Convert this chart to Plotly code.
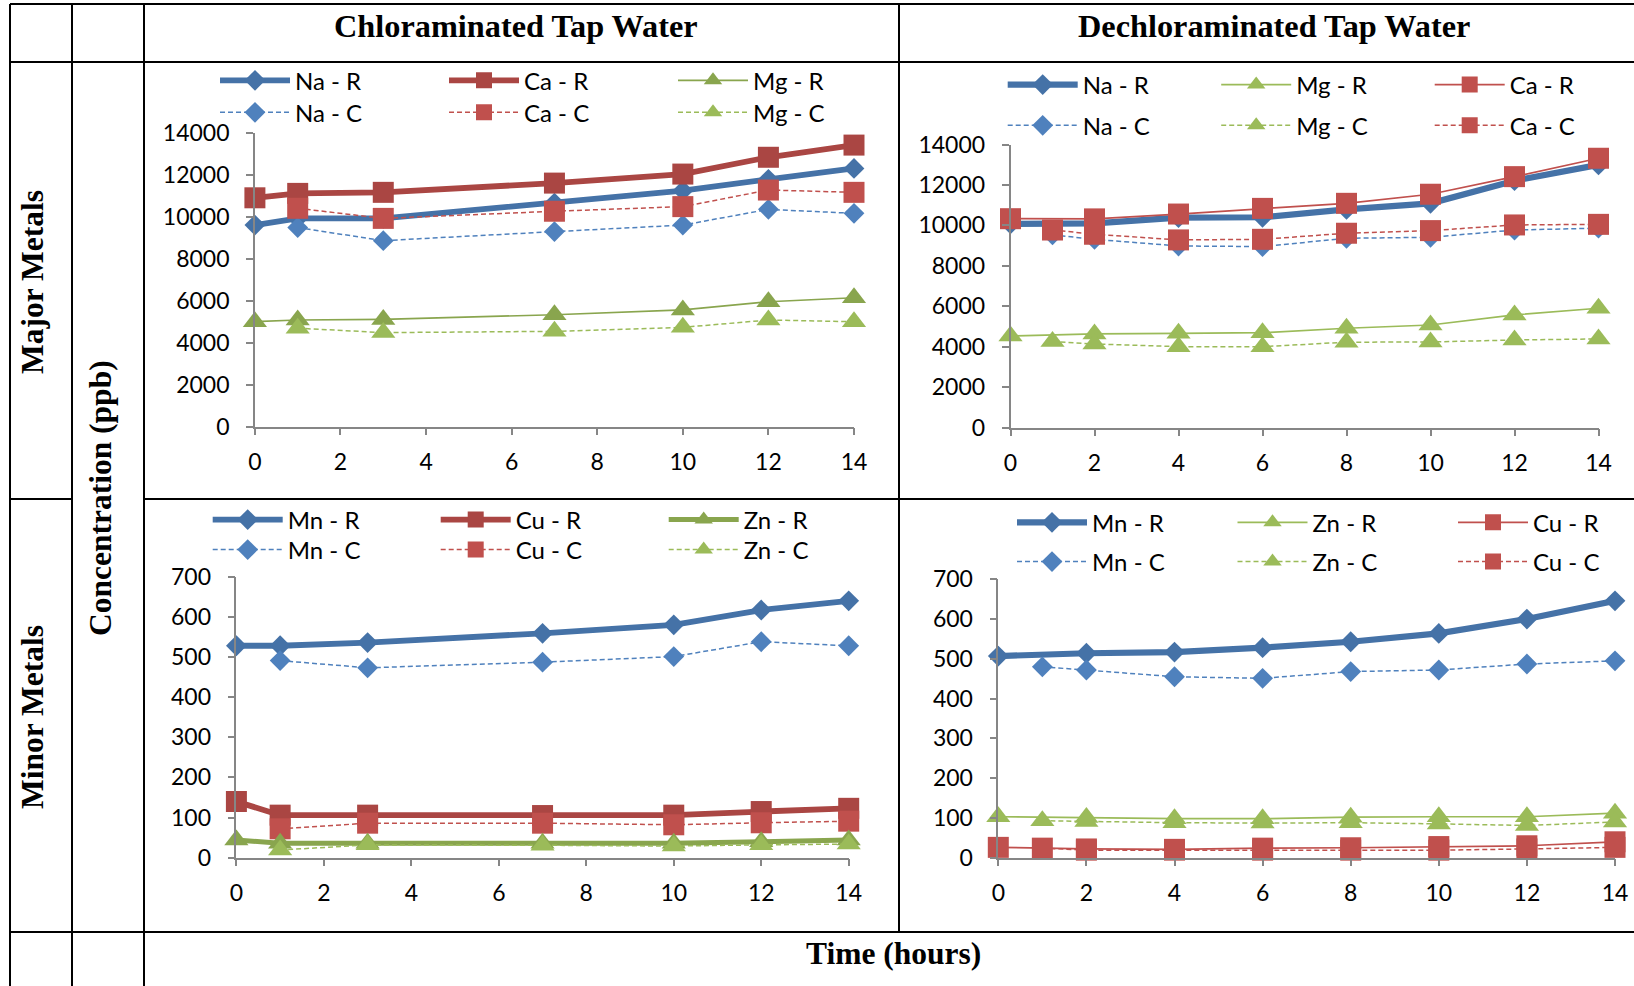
import plotly.graph_objects as go

W, H = 1634, 986

# ---------------- data ----------------
tl_x_r = [0, 1, 3, 7, 10, 12, 14]
tl_x_c = [1, 3, 7, 10, 12, 14]
tl_na_r = [9600, 9920, 9920, 10650, 11240, 11780, 12300]
tl_ca_r = [10900, 11110, 11160, 11600, 12030, 12830, 13410]
tl_mg_r = [5000, 5080, 5110, 5330, 5560, 5950, 6140]
tl_na_c = [9480, 8860, 9290, 9600, 10350, 10160]
tl_ca_c = [10400, 9920, 10260, 10480, 11270, 11160]
tl_mg_c = [4690, 4480, 4540, 4730, 5080, 5000]

tr_x_r = [0, 2, 4, 6, 8, 10, 12, 14]
tr_x_c = [1, 2, 4, 6, 8, 10, 12, 14]
tr_na_r = [10070, 10100, 10380, 10400, 10790, 11090, 12210, 12990]
tr_mg_r = [4530, 4630, 4660, 4690, 4910, 5070, 5570, 5900]
tr_ca_r = [10330, 10320, 10560, 10840, 11090, 11540, 12410, 13320]
tr_na_c = [9530, 9310, 8980, 8950, 9360, 9410, 9770, 9860]
tr_mg_c = [4250, 4130, 4000, 4000, 4220, 4230, 4330, 4380]
tr_ca_c = [9770, 9560, 9280, 9310, 9610, 9740, 10020, 10050]

bl_x_r = [0, 1, 3, 7, 10, 12, 14]
bl_x_c = [1, 3, 7, 10, 12, 14]
bl_mn_r = [528, 528, 536, 559, 580, 617, 640]
bl_cu_r = [140, 106, 106, 105, 106, 115, 123]
bl_zn_r = [44, 36, 36, 36, 36, 40, 44]
bl_mn_c = [491, 473, 487, 501, 538, 528]
bl_cu_c = [72, 86, 86, 82, 87, 91]
bl_zn_c = [19, 32, 31, 29, 32, 34]

br_x_r = [0, 2, 4, 6, 8, 10, 12, 14]
br_x_c = [1, 2, 4, 6, 8, 10, 12, 14]
br_mn_r = [507, 514, 517, 528, 543, 564, 600, 646]
br_zn_r = [103, 101, 98, 98, 102, 103, 103, 112]
br_cu_r = [26, 22, 21, 24, 25, 28, 30, 40]
br_mn_c = [480, 472, 455, 451, 468, 472, 487, 495]
br_zn_c = [93, 91, 88, 87, 88, 85, 81, 90]
br_cu_c = [24, 19, 19, 19, 19, 19, 22, 26]

x_ticks = [0, 2, 4, 6, 8, 10, 12, 14]
major_ticks = [0, 2000, 4000, 6000, 8000, 10000, 12000, 14000]
minor_ticks = [0, 100, 200, 300, 400, 500, 600, 700]

col_headers = ["Chloraminated Tap Water", "Dechloraminated Tap Water"]
row_headers = ["Major Metals", "Minor Metals"]
y_title = "Concentration (ppb)"
x_title = "Time (hours)"

# ---------------- styles ----------------
BLUE_D, RED_D, GREEN_D = "#4572A7", "#AA4643", "#89A54E"
BLUE_L, RED_L, GREEN_L = "#4F81BD", "#C0504D", "#9BBB59"
SYM = {"d": "diamond", "s": "square", "t": "triangle-up"}
MSIZE = {"d": 16, "s": 21, "t": 21}
TICKFONT = dict(family="Lato", size=23, color="black")
LEGFONT = dict(family="Lato", size=24, color="black")


def px(x):
    return x / W


def py(y):
    return 1 - y / H


fig = go.Figure()


def add(name, x, y, ax, color, sym, width, dash, legend):
    fig.add_trace(go.Scatter(
        x=x, y=y, name=name, mode="lines+markers",
        xaxis="x" + ax, yaxis="y" + ax,
        line=dict(color=color, width=width, dash=dash),
        marker=dict(symbol=SYM[sym], size=MSIZE[sym], color=color),
        cliponaxis=False, legend=legend,
    ))


DASH = "5px,3px"
THICK = 5.8
# Top-left: chloraminated, major
add("Na - R", tl_x_r, tl_na_r, "", BLUE_D, "d", THICK, "solid", "legend")
add("Na - C", tl_x_c, tl_na_c, "", BLUE_L, "d", 1.5, DASH, "legend2")
add("Ca - R", tl_x_r, tl_ca_r, "", RED_D, "s", THICK, "solid", "legend")
add("Ca - C", tl_x_c, tl_ca_c, "", RED_L, "s", 1.5, DASH, "legend2")
add("Mg - R", tl_x_r, tl_mg_r, "", GREEN_D, "t", 1.7, "solid", "legend")
add("Mg - C", tl_x_c, tl_mg_c, "", GREEN_L, "t", 1.5, DASH, "legend2")
# Top-right: dechloraminated, major
add("Na - R", tr_x_r, tr_na_r, "2", BLUE_D, "d", 6.2, "solid", "legend3")
add("Na - C", tr_x_c, tr_na_c, "2", BLUE_L, "d", 1.5, DASH, "legend4")
add("Mg - R", tr_x_r, tr_mg_r, "2", GREEN_L, "t", 1.7, "solid", "legend3")
add("Mg - C", tr_x_c, tr_mg_c, "2", GREEN_L, "t", 1.5, DASH, "legend4")
add("Ca - R", tr_x_r, tr_ca_r, "2", RED_L, "s", 1.7, "solid", "legend3")
add("Ca - C", tr_x_c, tr_ca_c, "2", RED_L, "s", 1.5, DASH, "legend4")
# Bottom-left: chloraminated, minor
add("Mn - R", bl_x_r, bl_mn_r, "3", BLUE_D, "d", THICK, "solid", "legend5")
add("Mn - C", bl_x_c, bl_mn_c, "3", BLUE_L, "d", 1.5, DASH, "legend6")
add("Cu - R", bl_x_r, bl_cu_r, "3", RED_D, "s", THICK, "solid", "legend5")
add("Cu - C", bl_x_c, bl_cu_c, "3", RED_L, "s", 1.5, DASH, "legend6")
add("Zn - R", bl_x_r, bl_zn_r, "3", GREEN_D, "t", 5, "solid", "legend5")
add("Zn - C", bl_x_c, bl_zn_c, "3", GREEN_L, "t", 1.5, DASH, "legend6")
# Bottom-right: dechloraminated, minor
add("Mn - R", br_x_r, br_mn_r, "4", BLUE_D, "d", 6.2, "solid", "legend7")
add("Mn - C", br_x_c, br_mn_c, "4", BLUE_L, "d", 1.5, DASH, "legend8")
add("Zn - R", br_x_r, br_zn_r, "4", GREEN_L, "t", 1.7, "solid", "legend7")
add("Zn - C", br_x_c, br_zn_c, "4", GREEN_L, "t", 1.5, DASH, "legend8")
add("Cu - R", br_x_r, br_cu_r, "4", RED_L, "s", 1.7, "solid", "legend7")
add("Cu - C", br_x_c, br_cu_c, "4", RED_L, "s", 1.5, DASH, "legend8")

AX = dict(showline=True, linecolor="#868686", linewidth=1.5, ticks="outside",
          ticklen=7, tickwidth=1.5, tickcolor="#868686", showgrid=False,
          zeroline=False, tickfont=TICKFONT, tickformat="d")

# plot-area pixel boxes: (x_left, x_right, y_bottom, y_top)
boxes = {
    "": (254.9, 854.0, 426.7, 132.7, major_ticks),
    "2": (1010.5, 1598.5, 427.5, 144.5, major_ticks),
    "3": (236.4, 848.7, 857.7, 576.7, minor_ticks),
    "4": (998.3, 1615.0, 857.7, 579.3, minor_ticks),
}
layout = {}
for k, (x0, x1, yb, yt, yt_vals) in boxes.items():
    layout["xaxis" + k] = dict(AX, domain=[px(x0), px(x1)], range=[0, 14],
                               tickvals=x_ticks, anchor="y" + k,
                               ticklabelstandoff=7)
    layout["yaxis" + k] = dict(AX, domain=[py(yb), py(yt)],
                               range=[yt_vals[0], yt_vals[-1]],
                               tickvals=yt_vals, anchor="x" + k,
                               ticklabelstandoff=12)

# legends: (name, x_line_start, y_center, spacing)
legs = [
    ("legend", 220, 80.7, 229), ("legend2", 220, 112.7, 229),
    ("legend3", 1007.7, 85, 213.5), ("legend4", 1007.7, 125.7, 213.5),
    ("legend5", 212.7, 520, 228), ("legend6", 212.7, 550, 228),
    ("legend7", 1017, 522.7, 220.5), ("legend8", 1017, 562, 220.5),
]
ITEMW = 70
for name, xs, yc, sp in legs:
    layout[name] = dict(orientation="h", x=px(xs - 5), y=py(yc),
                        xanchor="left", yanchor="middle", itemwidth=ITEMW,
                        entrywidth=sp - ITEMW - 15, entrywidthmode="pixels",
                        font=LEGFONT, bgcolor="rgba(0,0,0,0)",
                        tracegroupgap=0, itemclick=False)

# table lines
LINE = dict(color="black", width=2)
segs = [
    (10, 4, 1634, 4), (10, 62, 1634, 62), (10, 499, 72, 499),
    (144, 499, 1634, 499), (10, 932, 1634, 932),
    (10, 4, 10, 986), (72, 4, 72, 986), (144, 4, 144, 986), (899, 4, 899, 932),
]
shapes = [dict(type="line", xref="paper", yref="paper", x0=px(a), y0=py(b),
               x1=px(c), y1=py(d), line=LINE, layer="above") for a, b, c, d in segs]

HFONT = dict(family="Liberation Serif", size=31.5, color="black", weight="bold")
TFONT = dict(HFONT, size=32.3)
ann = []


def label(text, x, y, angle=0, font=HFONT):
    ann.append(dict(text=text, x=px(x), y=py(y), xref="paper", yref="paper",
                    showarrow=False, xanchor="center", yanchor="middle",
                    textangle=angle, font=font))


label(col_headers[0], 516, 26, font=TFONT)
label(col_headers[1], 1274, 26, font=TFONT)
label(row_headers[0], 32, 282, -90)
label(row_headers[1], 32, 717, -90)
label(y_title, 101, 498, -90)
label(x_title, 893, 953)

fig.update_layout(width=W, height=H,
                  margin=dict(l=0, r=0, t=0, b=0, autoexpand=False),
                  paper_bgcolor="white", plot_bgcolor="white",
                  shapes=shapes, annotations=ann, **layout)
fig.write_html("out.html")
